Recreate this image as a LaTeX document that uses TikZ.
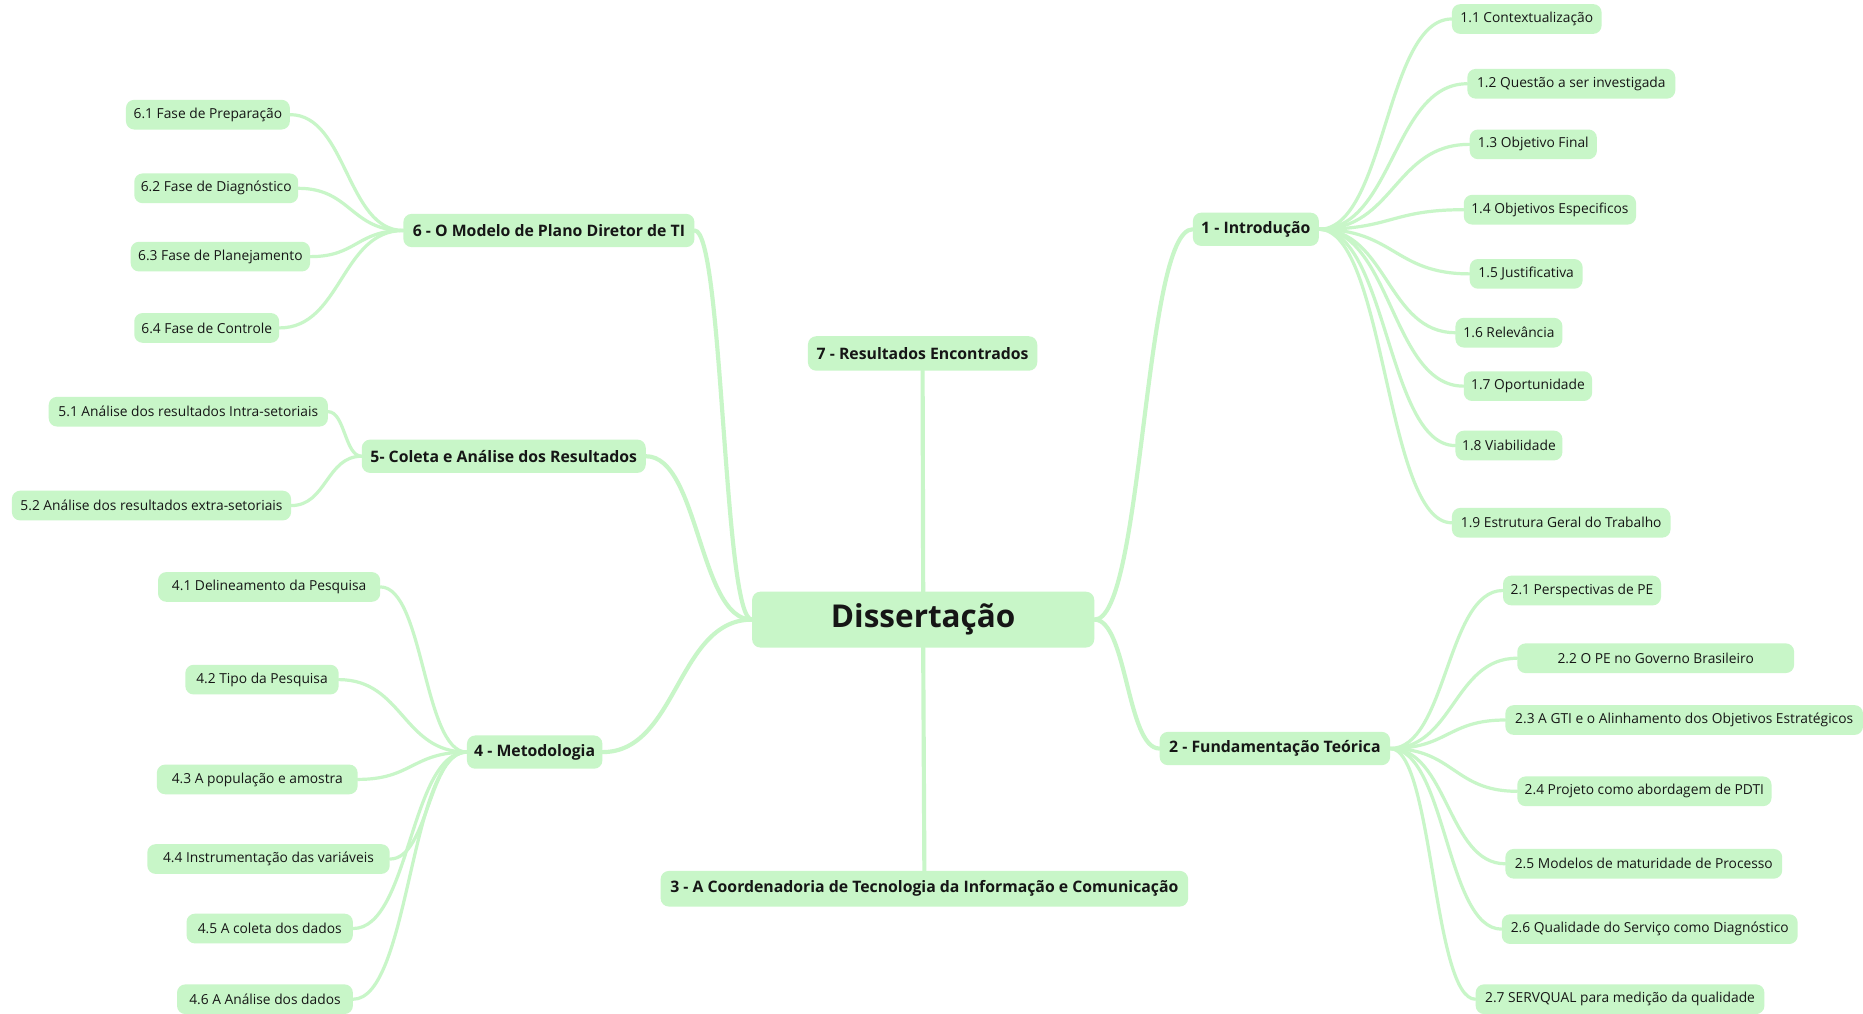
\documentclass[tikz,border=0pt]{standalone}
\usepackage{fontspec}
\setmainfont{Open Sans}
\usetikzlibrary{calc}
\definecolor{leaf}{RGB}{200,246,200}
\definecolor{ink}{RGB}{22,22,22}
\tikzset{
  box/.style={fill=leaf, rounded corners=7pt, inner sep=0pt, text=ink, anchor=center},
  sub/.style={box, minimum height=25pt, font=\fontsize{11.6}{13}\selectfont},
  main/.style={box, minimum height=28pt, font=\bfseries\fontsize{13.3}{15}\selectfont},
  root/.style={box, minimum height=47pt, font=\bfseries\fontsize{26.5}{30}\selectfont},
  link/.style={draw=leaf, line width=2.7pt, line cap=round},
  trunk/.style={draw=leaf, line width=3.5pt, line cap=round},
}
% S-shaped branch: leaves and enters horizontally, bends at mid-x
\newcommand\curvelink[3]{%
  \draw[#1] let \p1=(#2), \p2=(#3) in
    (\p1) .. controls ({(\x1+\x2)/2},\y1) and ({(\x1+\x2)/2},\y2) .. (\p2);}
\begin{document}
\begin{tikzpicture}[x=1pt, y=-1pt]
\fill[white] (0,0) rectangle (1568,853);
\useasboundingbox (0,0) rectangle (1568,853);

% central topic
\node[root, minimum width=288pt] (root) at (777,521.5) {Dissertação};

% chapters
\node[main, minimum width=106pt] (n1) at (1057,193) {1 - Introdução};
\node[main, minimum width=194pt] (n2) at (1073,630) {2 - Fundamentação Teórica};
\node[main, minimum width=444pt, minimum height=30pt] (n3) at (778,748) {3 - A Coordenadoria de Tecnologia da Informação e Comunicação};
\node[main, minimum width=114pt] (n4) at (450,633) {4 - Metodologia};
\node[main, minimum width=239pt] (n5) at (424,384) {5- Coleta e Análise dos Resultados};
\node[main, minimum width=245pt] (n6) at (462,194) {6 - O Modelo de Plano Diretor de TI};
\node[main, minimum width=193pt, minimum height=29pt] (n7) at (776.5,297.5) {7 - Resultados Encontrados};

% 1 - Introdução
\node[sub, minimum width=126pt] (s11) at (1285,16) {1.1 Contextualização};
\node[sub, minimum width=175pt] (s12) at (1322.5,70.5) {1.2 Questão a ser investigada};
\node[sub, minimum width=107pt] (s13) at (1290.5,121.5) {1.3 Objetivo Final};
\node[sub, minimum width=145pt] (s14) at (1304.5,176.5) {1.4 Objetivos Especificos};
\node[sub, minimum width=95pt] (s15) at (1284.5,230.5) {1.5 Justificativa};
\node[sub, minimum width=90pt] (s16) at (1270,280) {1.6 Relevância};
\node[sub, minimum width=108pt] (s17) at (1286,325) {1.7 Oportunidade};
\node[sub, minimum width=90pt] (s18) at (1270,375) {1.8 Viabilidade};
\node[sub, minimum width=184pt] (s19) at (1314,440) {1.9 Estrutura Geral do Trabalho};

% 2 - Fundamentação Teórica
\node[sub, minimum width=133pt] (s21) at (1331.5,497) {2.1 Perspectivas de PE};
\node[sub, minimum width=233pt] (s22) at (1393.5,554) {2.2 O PE no Governo Brasileiro};
\node[sub, minimum width=301pt] (s23) at (1417.5,606) {2.3 A GTI e o Alinhamento dos Objetivos Estratégicos};
\node[sub, minimum width=214pt] (s24) at (1384,666) {2.4 Projeto como abordagem de PDTI};
\node[sub, minimum width=233pt] (s25) at (1383.5,727) {2.5 Modelos de maturidade de Processo};
\node[sub, minimum width=249pt] (s26) at (1388.5,782) {2.6 Qualidade do Serviço como Diagnóstico};
\node[sub, minimum width=243pt] (s27) at (1363.5,841) {2.7 SERVQUAL para medição da qualidade};

% 4 - Metodologia
\node[sub, minimum width=187pt] (s41) at (226.5,494) {4.1 Delineamento da Pesquisa};
\node[sub, minimum width=129pt] (s42) at (220.5,572) {4.2 Tipo da Pesquisa};
\node[sub, minimum width=169pt] (s43) at (216.5,656) {4.3 A população e amostra};
\node[sub, minimum width=204pt] (s44) at (226,723) {4.4 Instrumentação das variáveis};
\node[sub, minimum width=140pt] (s45) at (227,781.5) {4.5 A coleta dos dados};
\node[sub, minimum width=148pt] (s46) at (223,841) {4.6 A Análise dos dados};

% 5 - Coleta e Análise
\node[sub, minimum width=235pt] (s51) at (158.5,346.5) {5.1 Análise dos resultados Intra-setoriais};
\node[sub, minimum width=235pt] (s52) at (127.5,425.5) {5.2 Análise dos resultados extra-setoriais};

% 6 - O Modelo de Plano Diretor
\node[sub, minimum width=138pt] (s61) at (175,96.5) {6.1 Fase de Preparação};
\node[sub, minimum width=138pt] (s62) at (182,158.5) {6.2 Fase de Diagnóstico};
\node[sub, minimum width=151pt] (s63) at (185.5,216) {6.3 Fase de Planejamento};
\node[sub, minimum width=122pt] (s64) at (174,276) {6.4 Fase de Controle};

% trunk connectors
\draw[trunk] (root.north) -- (n7.south);
\draw[trunk] (root.south) -- (n3.north);
\curvelink{trunk}{root.east}{n1.west}
\curvelink{trunk}{root.east}{n2.west}
\curvelink{trunk}{root.west}{n4.east}
\curvelink{trunk}{root.west}{n5.east}
\curvelink{trunk}{root.west}{n6.east}

% branch connectors
\foreach \c in {s11,s12,s13,s14,s15,s16,s17,s18,s19}{\curvelink{link}{n1.east}{\c.west}}
\foreach \c in {s21,s22,s23,s24,s25,s26,s27}{\curvelink{link}{n2.east}{\c.west}}
\foreach \c in {s41,s42,s43,s44,s45,s46}{\curvelink{link}{n4.west}{\c.east}}
\foreach \c in {s51,s52}{\curvelink{link}{n5.west}{\c.east}}
\foreach \c in {s61,s62,s63,s64}{\curvelink{link}{n6.west}{\c.east}}
\end{tikzpicture}
\end{document}
